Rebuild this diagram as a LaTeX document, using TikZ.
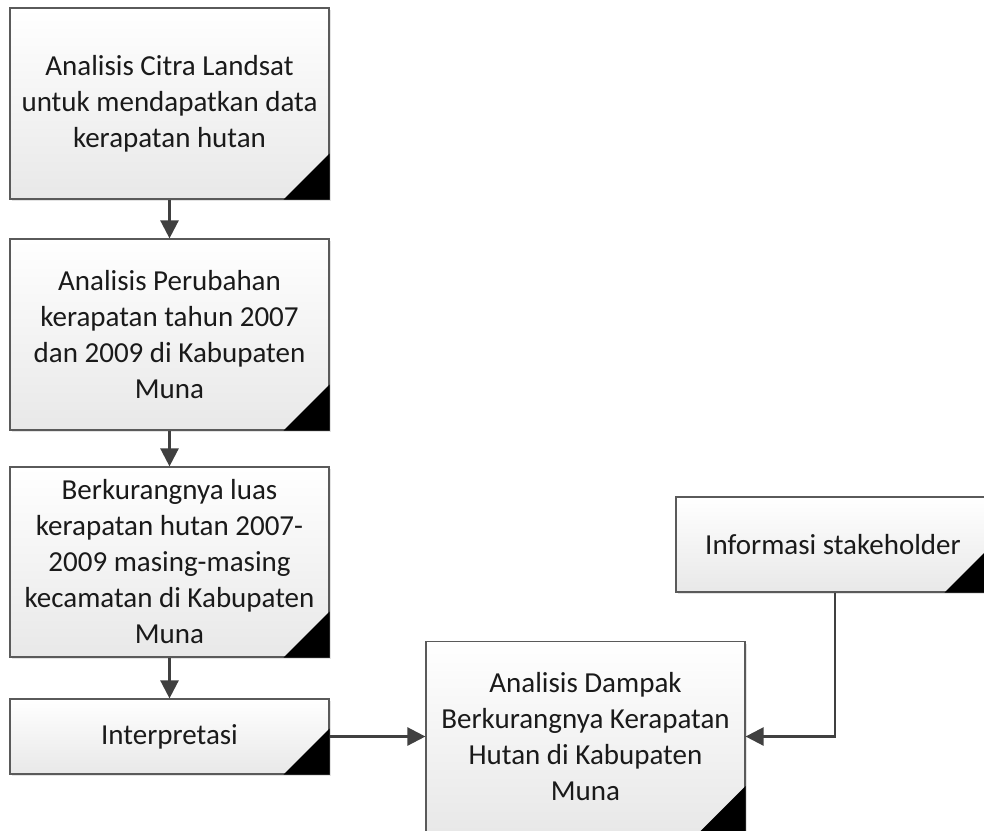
\documentclass[tikz,border=0pt]{standalone}
\usepackage{fontspec}
\setmainfont{Carlito}
\usetikzlibrary{arrows.meta,shadows}
\definecolor{bordergray}{HTML}{5A5A5A}
\definecolor{arrowgray}{HTML}{404040}
\definecolor{textgray}{HTML}{1A1A1A}
\tikzset{
  procbox/.style={draw=bordergray, line width=1.2pt, rectangle,
    top color=white, bottom color=black!9,
    drop shadow={shadow xshift=2pt, shadow yshift=-2pt, fill=black!18, opacity=0.6},
    align=center, text=textgray, inner sep=4pt,
    font=\fontsize{29}{36}\selectfont},
  arr/.style={draw=arrowgray, line width=2.5pt,
    -{Triangle[length=18pt,width=18pt]}},
  corner/.style={fill=black}
}
\newcommand{\cornertri}[1]{\fill[corner] (#1.south east) -- ++(-46pt,0pt) -- ++(46pt,46pt) -- cycle;}
\begin{document}
\begin{tikzpicture}[x=1pt,y=-1pt]
\useasboundingbox (0,0) rectangle (984,830);
\fill[white] (0,0) rectangle (984,830);

\node[procbox, minimum width=319pt, minimum height=191pt] (b1) at (169.5,103.5)
  {Analisis Citra Landsat\\untuk mendapatkan data\\kerapatan hutan};
\node[procbox, minimum width=319pt, minimum height=191pt] (b2) at (169.5,334.5)
  {Analisis Perubahan\\kerapatan tahun 2007\\dan 2009 di Kabupaten\\Muna};
\node[procbox, minimum width=319pt, minimum height=190pt] (b3) at (169.5,562)
  {Berkurangnya luas\\kerapatan hutan 2007-\\2009 masing-masing\\kecamatan di Kabupaten\\Muna};
\node[procbox, minimum width=319pt, minimum height=75pt] (b4) at (169.5,736.5)
  {Interpretasi};
\node[procbox, minimum width=319pt, minimum height=190pt] (b5) at (585.5,736.5)
  {Analisis Dampak\\Berkurangnya Kerapatan\\Hutan di Kabupaten\\Muna};
\node[procbox, minimum width=314pt, minimum height=95pt] (b6) at (833,544.5)
  {Informasi stakeholder};

\cornertri{b1}
\cornertri{b2}
\cornertri{b3}
\cornertri{b4}
\cornertri{b5}
\cornertri{b6}

\draw[arr] (b1.south) -- (b2.north);
\draw[arr] (b2.south) -- (b3.north);
\draw[arr] (b3.south) -- (b4.north);
\draw[arr] (b4.east) -- (b5.west |- b4.east);
\coordinate (c1) at (835,736.5);
\draw[arr] (b6.south -| c1) -- (c1) -- (b5.east |- c1);
\end{tikzpicture}
\end{document}
